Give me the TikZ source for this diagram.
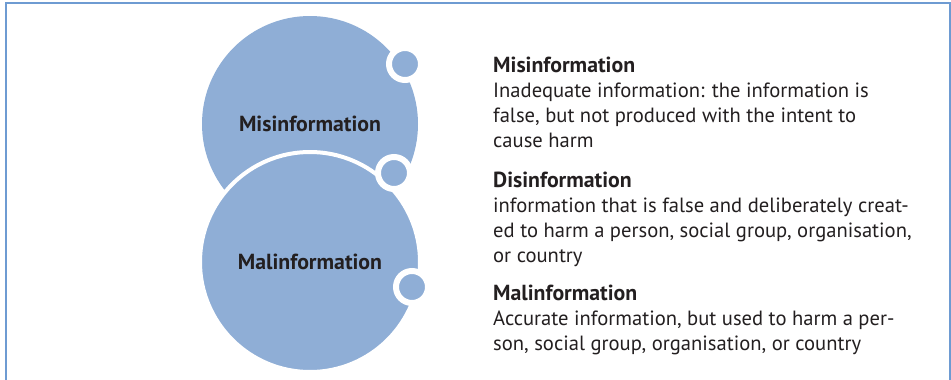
\documentclass[tikz,border=0pt]{standalone}
\usepackage{fontspec}
\setmainfont{PT Sans}
\definecolor{framec}{RGB}{110,155,210}
\definecolor{circc}{RGB}{143,174,214}
\definecolor{textc}{RGB}{35,31,32}
\tikzstyle{bigcircle}=[circle,fill=circc,minimum size=216pt,inner sep=0pt,text=textc,font=\fontsize{21.8}{24}\selectfont\bfseries]
\tikzstyle{smallcircle}=[circle,fill=circc,draw=white,line width=6pt,minimum size=32pt,inner sep=0pt]
\tikzstyle{deftext}=[anchor=north west,inner sep=0pt,align=left,text=textc,font=\fontsize{20.6}{24.8}\selectfont]

\begin{document}
\begin{tikzpicture}[x=1pt,y=-1pt]
\useasboundingbox (0,0) rectangle (951,380);
\draw[framec, line width=2pt] (6,380) -- (6,3) -- (950,3) -- (950,380);
\node[bigcircle] at (310, 124) (mis) {Misinformation};
\node[bigcircle, draw=white, line width=4pt, minimum size=220pt] at (310, 262) (mal) {Malinformation};
\node[smallcircle] at (405, 64) (d1) {};
\node[smallcircle] at (394, 173) (d2) {};
\node[smallcircle] at (412, 287) (d3) {};
\node[deftext] at (493, 57) (mis-def) {{\fontsize{21.8}{24.5}\selectfont\bfseries Misinformation}\\
  Inadequate information: the information is\\
  false, but not produced with the intent to\\
  cause harm};
\node[deftext] at (493, 172) (dis-def) {{\fontsize{21.8}{24.5}\selectfont\bfseries Disinformation}\\
  information that is false and deliberately creat-\\
  ed to harm a person, social group, organisation,\\
  or country};
\node[deftext] at (493, 285) (mal-def) {{\fontsize{21.8}{24.5}\selectfont\bfseries Malinformation}\\
  Accurate information, but used to harm a per-\\
  son, social group, organisation, or country};
\end{tikzpicture}
\end{document}
